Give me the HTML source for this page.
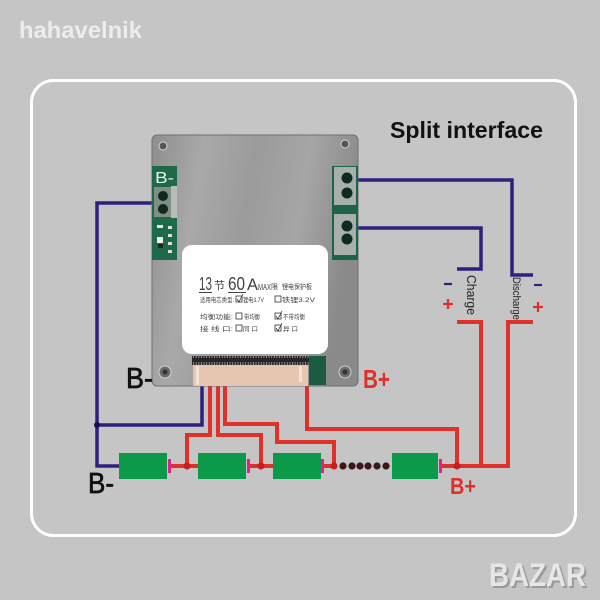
<!DOCTYPE html>
<html><head><meta charset="utf-8"><style>
html,body{margin:0;padding:0;background:#c5c5c5;}
svg{display:block;}
text{font-family:"Liberation Sans","Noto Sans CJK SC",sans-serif;}
</style></head><body>
<svg width="600" height="600" viewBox="0 0 600 600" xmlns="http://www.w3.org/2000/svg">
<defs>
<linearGradient id="plate" x1="0" x2="1" y1="0" y2="0.2">
<stop offset="0" stop-color="#8e8e8e"/>
<stop offset="0.25" stop-color="#a9a9a9"/>
<stop offset="0.5" stop-color="#9b9b9b"/>
<stop offset="0.75" stop-color="#a6a6a6"/>
<stop offset="1" stop-color="#8a8a8a"/>
</linearGradient>
<pattern id="pins" x="0" y="0" width="2.6" height="10" patternUnits="userSpaceOnUse">
<rect x="0" y="0" width="2.6" height="10" fill="#262626"/>
<rect x="0.8" y="2" width="0.9" height="6" fill="#9a9a9a"/>
</pattern>
</defs>
<rect width="600" height="600" fill="#c5c5c5"/>
<text x="19" y="38" font-size="23" font-weight="bold" fill="#ededed" textLength="123" lengthAdjust="spacingAndGlyphs">hahavelnik</text>
<rect x="31.5" y="80.5" width="544" height="455" rx="22" fill="none" stroke="#ffffff" stroke-width="3"/>
<text x="390" y="138" font-size="23" font-weight="bold" fill="#111" textLength="153" lengthAdjust="spacingAndGlyphs">Split interface</text>

<!-- blue wires -->
<g fill="none" stroke="#2e1f80" stroke-width="3.5">
<polyline points="155,203 97,203 97,466 121,466"/>
<polyline points="202,384 202,425 97,425"/>
<polyline points="355,180 512,180 512,275 533,275"/>
<polyline points="355,228 481,228 481,269 457,269"/>
</g>
<circle cx="97" cy="425" r="3" fill="#1a1050"/>

<!-- red wires -->
<g fill="none" stroke="#e0302a" stroke-width="4">
<line x1="170" y1="466" x2="199" y2="466"/>
<line x1="249" y1="466" x2="274" y2="466"/>
<line x1="323" y1="466" x2="336" y2="466"/>
<line x1="441" y1="466" x2="510" y2="466"/>
<polyline points="210,384 210,435 187,435 187,466"/>
<polyline points="218,384 218,435 261,435 261,466"/>
<polyline points="225,384 225,424 277,424 277,442 334,442 334,466"/>
<polyline points="307,384 307,429 457,429 457,466"/>
<polyline points="457,322 481,322 481,466"/>
<polyline points="533,322 508,322 508,466"/>
</g>
<g fill="#c42020">
<circle cx="187" cy="466" r="3.5"/>
<circle cx="261" cy="466" r="3.5"/>
<circle cx="334" cy="466" r="3.5"/>
<circle cx="457" cy="466" r="3.5"/>
</g>
<g fill="#3a1818">
<circle cx="343" cy="466" r="3.6"/>
<circle cx="352" cy="466" r="3.6"/>
<circle cx="360" cy="466" r="3.6"/>
<circle cx="368" cy="466" r="3.6"/>
<circle cx="377" cy="466" r="3.6"/>
<circle cx="386" cy="466" r="3.6"/>
</g>

<!-- batteries -->
<g fill="#0c9a4a">
<rect x="119" y="453" width="48" height="26"/>
<rect x="198" y="453" width="48" height="26"/>
<rect x="273" y="453" width="48" height="26"/>
<rect x="392" y="453" width="46" height="26"/>
</g>
<g fill="#e0208f">
<rect x="168" y="459" width="3" height="14"/>
<rect x="247" y="459" width="3" height="14"/>
<rect x="321" y="459" width="3" height="14"/>
<rect x="439" y="459" width="3" height="14"/>
</g>

<!-- board -->
<rect x="152" y="135" width="206" height="251" rx="5" fill="url(#plate)" stroke="#707070" stroke-width="1"/>
<rect x="152" y="166" width="25" height="94" fill="#1e6a48"/>
<text x="155" y="183" font-size="16" fill="#e8f0ea" textLength="19" lengthAdjust="spacingAndGlyphs">B-</text>
<rect x="154" y="187" width="17" height="30" fill="#7f8f86"/>
<rect x="171" y="186" width="6" height="32" fill="#b8bcba"/>
<circle cx="163" cy="196" r="5" fill="#10271d"/>
<circle cx="163" cy="209" r="5" fill="#10271d"/>
<rect x="157" y="225" width="6" height="3" fill="#e8e8e8"/>
<rect x="157" y="237" width="6" height="6" fill="#eeeeee"/>
<rect x="158" y="244" width="5" height="4" fill="#222"/>
<rect x="168" y="226" width="4" height="3" fill="#ddd"/>
<rect x="168" y="234" width="4" height="3" fill="#ddd"/>
<rect x="168" y="242" width="4" height="3" fill="#ddd"/>
<rect x="168" y="250" width="4" height="3" fill="#ddd"/>

<rect x="332" y="166" width="26" height="94" fill="#1d6446"/>
<rect x="334" y="167" width="22" height="38" fill="#a9b0ac"/>
<rect x="334" y="214" width="22" height="41" fill="#a9b0ac"/>
<circle cx="347" cy="178" r="5.5" fill="#0f2a20"/>
<circle cx="347" cy="193" r="5.5" fill="#0f2a20"/>
<circle cx="347" cy="226" r="5.5" fill="#0f2a20"/>
<circle cx="347" cy="239" r="5.5" fill="#0f2a20"/>

<circle cx="163" cy="146" r="4" fill="#555" stroke="#d5d5d5" stroke-width="1"/>
<circle cx="345" cy="144" r="4" fill="#555" stroke="#d5d5d5" stroke-width="1"/>
<circle cx="165" cy="372" r="6" fill="#6a6a6a" stroke="#d0d0d0" stroke-width="1"/>
<circle cx="165" cy="372" r="2.5" fill="#333"/>
<circle cx="345" cy="372" r="6" fill="#6a6a6a" stroke="#d0d0d0" stroke-width="1"/>
<circle cx="345" cy="372" r="2.5" fill="#333"/>

<!-- label -->
<rect x="182" y="245" width="146" height="109" rx="10" fill="#ffffff"/>
<g fill="#444">
<text x="199" y="290" font-size="18" textLength="13" lengthAdjust="spacingAndGlyphs">13</text>
<text x="214" y="289" font-size="11">节</text>
<text x="228" y="290" font-size="18" textLength="17" lengthAdjust="spacingAndGlyphs">60</text>
<text x="247" y="290" font-size="17" textLength="11" lengthAdjust="spacingAndGlyphs">A</text>
<text x="258" y="290" font-size="8" textLength="13" lengthAdjust="spacingAndGlyphs">MAX</text>
<text x="271" y="289" font-size="7">限</text>
<text x="282" y="289" font-size="7" textLength="30" lengthAdjust="spacingAndGlyphs">锂电保护板</text>
<rect x="199" y="292" width="13" height="1" />
<rect x="228" y="292" width="18" height="1" />
<text x="200" y="302" font-size="6.5" textLength="34" lengthAdjust="spacingAndGlyphs">适用电芯类型:</text>
<text x="243" y="302" font-size="6.5" textLength="21" lengthAdjust="spacingAndGlyphs">锂电3.7V</text>
<text x="282" y="302" font-size="6.5" textLength="33" lengthAdjust="spacingAndGlyphs">铁锂3.2V</text>
<text x="200" y="319" font-size="6.5" textLength="33" lengthAdjust="spacingAndGlyphs">均衡功能:</text>
<text x="244" y="319" font-size="6.5" textLength="16" lengthAdjust="spacingAndGlyphs">带均衡</text>
<text x="283" y="319" font-size="6.5" textLength="22" lengthAdjust="spacingAndGlyphs">不带均衡</text>
<text x="200" y="331" font-size="6.5" textLength="33" lengthAdjust="spacingAndGlyphs">接 线 口:</text>
<text x="243" y="331" font-size="6.5" textLength="15" lengthAdjust="spacingAndGlyphs">同 口</text>
<text x="283" y="331" font-size="6.5" textLength="15" lengthAdjust="spacingAndGlyphs">异 口</text>
</g>
<g fill="none" stroke="#333" stroke-width="0.8">
<rect x="236" y="296" width="6" height="6"/>
<rect x="275" y="296" width="6" height="6"/>
<rect x="236" y="313" width="6" height="6"/>
<rect x="275" y="313" width="6" height="6"/>
<rect x="236" y="325" width="6" height="6"/>
<rect x="275" y="325" width="6" height="6"/>
<polyline points="237,299 239,302 243,294"/>
<polyline points="276,316 278,319 282,311"/>
<polyline points="276,328 278,331 282,323"/>
</g>

<!-- connector -->
<rect x="192" y="356" width="118" height="9" fill="url(#pins)"/>
<rect x="309" y="356" width="17" height="29" fill="#1b5b40"/>
<rect x="193" y="365" width="115" height="21" fill="#e6c5b1"/>
<rect x="196" y="366" width="3" height="19" fill="#f3e2d6"/>
<rect x="299" y="366" width="3" height="16" fill="#f3e2d6"/>

<!-- labels -->
<text x="126" y="388" font-size="29" fill="#111" stroke="#111" stroke-width="0.7" textLength="27" lengthAdjust="spacingAndGlyphs">B-</text>
<text x="88" y="493" font-size="29" fill="#111" stroke="#111" stroke-width="0.7" textLength="26" lengthAdjust="spacingAndGlyphs">B-</text>
<text x="363" y="388" font-size="26" font-weight="bold" fill="#e0302a" textLength="27" lengthAdjust="spacingAndGlyphs">B+</text>
<text x="450" y="494" font-size="23" font-weight="bold" fill="#e0302a" textLength="26" lengthAdjust="spacingAndGlyphs">B+</text>

<g stroke-width="2.2">
<line x1="444" y1="284" x2="452" y2="284" stroke="#2e1f80"/>
<line x1="443" y1="304" x2="453" y2="304" stroke="#e0302a"/>
<line x1="448" y1="299" x2="448" y2="309" stroke="#e0302a"/>
<line x1="534" y1="285" x2="542" y2="285" stroke="#2e1f80"/>
<line x1="533" y1="307" x2="543" y2="307" stroke="#e0302a"/>
<line x1="538" y1="302" x2="538" y2="312" stroke="#e0302a"/>
</g>
<text transform="translate(467,275) rotate(90)" font-size="13" fill="#222" textLength="40" lengthAdjust="spacingAndGlyphs">Charge</text>
<text transform="translate(513,277) rotate(90)" font-size="11" fill="#222" textLength="43" lengthAdjust="spacingAndGlyphs">Discharge</text>

<!-- logo -->
<text x="491" y="588" font-size="32" font-weight="bold" fill="#9a9a9a" textLength="97" lengthAdjust="spacingAndGlyphs">BAZAR</text>
<text x="489" y="586" font-size="32" font-weight="bold" fill="#e6e6e6" textLength="97" lengthAdjust="spacingAndGlyphs">BAZAR</text>
</svg>
</body></html>
